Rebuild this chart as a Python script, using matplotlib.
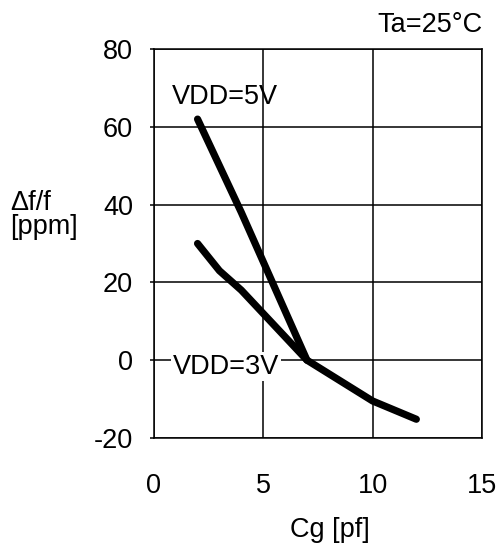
import matplotlib
matplotlib.use("Agg")
import matplotlib.pyplot as plt

plt.rcParams['font.family'] = ['Liberation Sans', 'DejaVu Sans']
plt.rcParams['axes.unicode_minus'] = False

# data
cg_5v = [2, 4, 7, 8, 10, 12]
df_5v = [62, 38, 0, -3.5, -10.5, -15.2]
cg_3v = [2, 3, 4, 7]
df_3v = [30, 23, 18, 0]
x_ticks = [0, 5, 10, 15]
y_ticks = [-20, 0, 20, 40, 60, 80]

fs = 19.5
fig = plt.figure(figsize=(5.01, 5.46), dpi=100)
ax = fig.add_axes([0.307, 0.198, 0.655, 0.712])

ax.plot(cg_5v, df_5v, color="black", lw=5.2, solid_capstyle="round", solid_joinstyle="round")
ax.plot(cg_3v, df_3v, color="black", lw=5.2, solid_capstyle="round", solid_joinstyle="round")

ax.set_xlim(0, 15)
ax.set_ylim(-20, 80)
ax.set_xticks(x_ticks)
ax.set_yticks(y_ticks)
ax.grid(True, color="black", lw=1.1)
for s in ax.spines.values():
    s.set_linewidth(1.1)
ax.tick_params(axis="x", length=0, pad=25, labelsize=fs)
ax.tick_params(axis="y", length=3, width=1.1, pad=12, labelsize=fs)

ax.text(0.82, 67.6, "VDD=5V", fontsize=fs, va="center", ha="left")
ax.text(0.87, -1.7, "VDD=3V", fontsize=fs, va="center", ha="left",
        bbox=dict(facecolor="white", edgecolor="none", pad=1))

fig.text(482 / 501, 1 - 25 / 546, "Ta=25°C", fontsize=fs, ha="right", va="center")
fig.text(10 / 501, 1 - 215 / 546, "Δf/f\n[ppm]", fontsize=fs, ha="left", va="center",
         linespacing=0.9)
fig.text(330 / 501, 1 - 530 / 546, "Cg [pf]", fontsize=fs, ha="center", va="center")

fig.savefig("out.png", dpi=100)
